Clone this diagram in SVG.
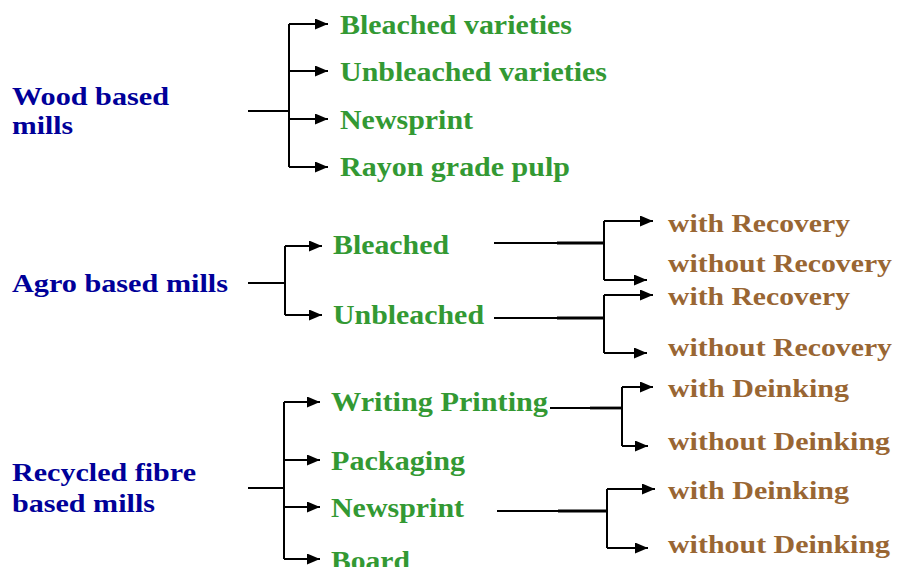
<svg xmlns="http://www.w3.org/2000/svg" width="897" height="567" viewBox="0 0 897 567">
<style>
text{font-family:"Liberation Serif","Times New Roman",serif;font-weight:bold;font-size:27px}
.cat{fill:#000099;font-size:26px}
.sub{fill:#339933}
.leaf{fill:#996633;font-size:26px}
.ln{fill:none;stroke:#000;stroke-width:2}
.thk{fill:none;stroke:#000;stroke-width:2.8}
.ar{fill:none;stroke:#000;stroke-width:2;marker-end:url(#ah)}
</style>
<defs>
<marker id="ah" markerUnits="userSpaceOnUse" markerWidth="14" markerHeight="12" refX="13" refY="5.5" orient="auto">
<path d="M0,0 L13,5.5 L0,11 Z" fill="#000"/>
</marker>
</defs>
<rect width="897" height="567" fill="#fff"/>
<g id="connectors">
<path class="ln" d="M248,111 H289 M289,24 V167"/>
<path class="ar" d="M289,24 H328"/>
<path class="ar" d="M289,71 H328"/>
<path class="ar" d="M289,119 H328"/>
<path class="ar" d="M289,167 H328"/>
<path class="ln" d="M248,283 H285 M285,246 V315"/>
<path class="ar" d="M285,246 H322"/>
<path class="ar" d="M285,315 H322"/>
<path class="ln" d="M494,243 H604 M604,221 V280"/>
<path class="thk" d="M557,243 H604"/>
<path class="ar" d="M604,221 H653"/>
<path class="ar" d="M604,280 H647"/>
<path class="ln" d="M494,318 H604 M604,295 V353"/>
<path class="thk" d="M557,318 H604"/>
<path class="ar" d="M604,295 H653"/>
<path class="ar" d="M604,353 H647"/>
<path class="ln" d="M248,488 H284 M284,402 V559"/>
<path class="ar" d="M284,402 H320"/>
<path class="ar" d="M284,460 H320"/>
<path class="ar" d="M284,507 H320"/>
<path class="ar" d="M284,559 H320"/>
<path class="ln" d="M550,408 H622 M622,387 V446"/>
<path class="thk" d="M590,408 H622"/>
<path class="ar" d="M622,387 H653"/>
<path class="ar" d="M622,446 H648"/>
<path class="ln" d="M497,511 H607 M607,489 V548"/>
<path class="thk" d="M558,511 H607"/>
<path class="ar" d="M607,489 H655"/>
<path class="ar" d="M607,548 H648"/>
</g>
<g id="wood"><text class="cat" x="12" y="105" textLength="157" lengthAdjust="spacingAndGlyphs">Wood based</text><text class="cat" x="12" y="134" textLength="61" lengthAdjust="spacingAndGlyphs">mills</text></g>
<g id="agro"><text class="cat" x="12" y="292" textLength="216" lengthAdjust="spacingAndGlyphs">Agro based mills</text></g>
<g id="recycled"><text class="cat" x="12" y="481" textLength="184" lengthAdjust="spacingAndGlyphs">Recycled fibre</text><text class="cat" x="12" y="512" textLength="143" lengthAdjust="spacingAndGlyphs">based mills</text></g>
<g id="w-bleached"><text class="sub" x="340" y="34" textLength="232" lengthAdjust="spacingAndGlyphs">Bleached varieties</text></g>
<g id="w-unbleached"><text class="sub" x="340" y="81" textLength="267" lengthAdjust="spacingAndGlyphs">Unbleached varieties</text></g>
<g id="w-newsprint"><text class="sub" x="340" y="129" textLength="133" lengthAdjust="spacingAndGlyphs">Newsprint</text></g>
<g id="w-rayon"><text class="sub" x="340" y="176" textLength="230" lengthAdjust="spacingAndGlyphs">Rayon grade pulp</text></g>
<g id="a-bleached"><text class="sub" x="333" y="254" textLength="116" lengthAdjust="spacingAndGlyphs">Bleached</text></g>
<g id="a-unbleached"><text class="sub" x="333" y="324" textLength="151" lengthAdjust="spacingAndGlyphs">Unbleached</text></g>
<g id="ab-with"><text class="leaf" x="668" y="232" textLength="182" lengthAdjust="spacingAndGlyphs">with Recovery</text></g>
<g id="ab-without"><text class="leaf" x="668" y="272" textLength="224" lengthAdjust="spacingAndGlyphs">without Recovery</text></g>
<g id="au-with"><text class="leaf" x="668" y="305" textLength="182" lengthAdjust="spacingAndGlyphs">with Recovery</text></g>
<g id="au-without"><text class="leaf" x="668" y="356" textLength="224" lengthAdjust="spacingAndGlyphs">without Recovery</text></g>
<g id="r-writing"><text class="sub" x="331" y="411" textLength="217" lengthAdjust="spacingAndGlyphs">Writing Printing</text></g>
<g id="r-packaging"><text class="sub" x="331" y="470" textLength="134" lengthAdjust="spacingAndGlyphs">Packaging</text></g>
<g id="r-newsprint"><text class="sub" x="331" y="517" textLength="133" lengthAdjust="spacingAndGlyphs">Newsprint</text></g>
<g id="r-board"><text class="sub" x="331" y="570" textLength="79" lengthAdjust="spacingAndGlyphs">Board</text></g>
<g id="rw-with"><text class="leaf" x="668" y="397" textLength="181" lengthAdjust="spacingAndGlyphs">with Deinking</text></g>
<g id="rw-without"><text class="leaf" x="668" y="450" textLength="222" lengthAdjust="spacingAndGlyphs">without Deinking</text></g>
<g id="rn-with"><text class="leaf" x="668" y="499" textLength="181" lengthAdjust="spacingAndGlyphs">with Deinking</text></g>
<g id="rn-without"><text class="leaf" x="668" y="553" textLength="222" lengthAdjust="spacingAndGlyphs">without Deinking</text></g>
</svg>
